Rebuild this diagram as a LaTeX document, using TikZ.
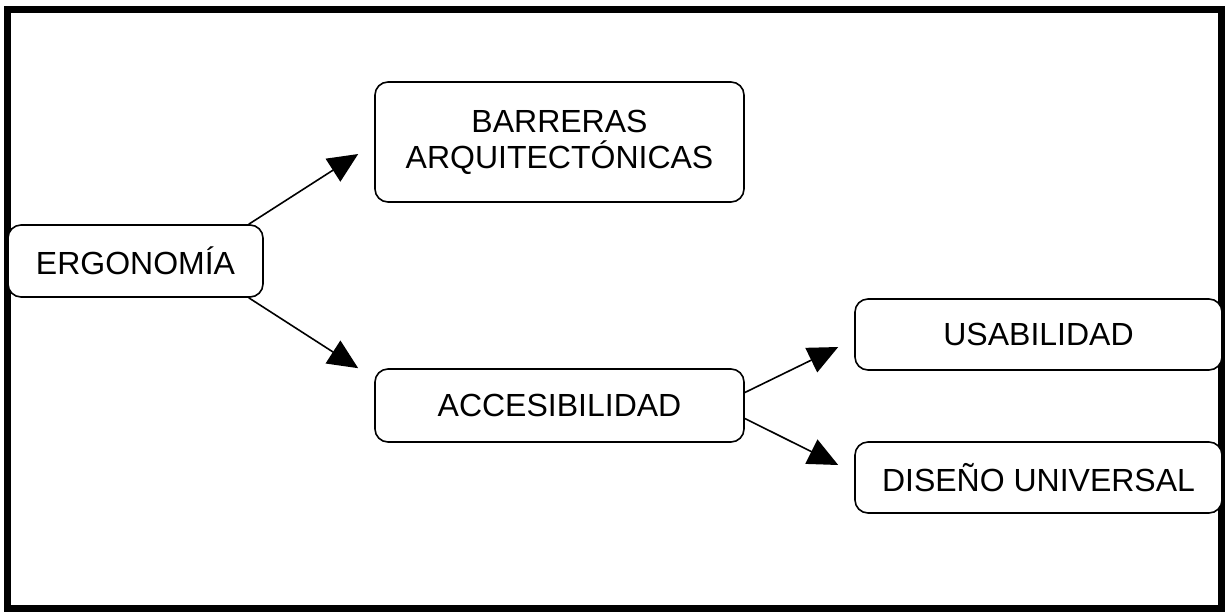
\documentclass[tikz,border=0pt]{standalone}
\usepackage{fontspec}
\setmainfont{Liberation Sans}
\usetikzlibrary{arrows.meta,calc}
\begin{document}
\begin{tikzpicture}[x=1pt,y=-1pt,
  box/.style={draw=black,line width=1.6pt,rounded corners=13pt,fill=white,
    font=\fontsize{32}{36}\selectfont,align=center,inner sep=0pt},
  conn/.style={line width=1.6pt,-{Triangle[length=30pt,width=27pt]}}]
\useasboundingbox (0,0) rectangle (1225,611);
\fill[white] (0,0) rectangle (1225,611);
\draw[line width=7pt] (7.5,9.5) rectangle (1221,608);
\node[box,minimum width=255pt,minimum height=72pt] (ergo) at (135.5,261) {ERGONOMÍA};
\node[box,minimum width=369pt,minimum height=120pt] (barr) at (559.5,142) {BARRERAS\\ARQUITECTÓNICAS};
\node[box,minimum width=369pt,minimum height=73pt] (acc) at (559.5,405.5) {ACCESIBILIDAD};
\node[box,minimum width=367pt,minimum height=71pt] (usab) at (1038.5,334.5) {USABILIDAD};
\node[box,minimum width=367pt,minimum height=71pt] (dis) at (1038.5,477.5) {DISEÑO UNIVERSAL};
\draw[conn] (ergo.18) -- ($(barr.west)+(-16,12)$);
\draw[conn] (ergo.-18) -- ($(acc.north west)+(-16,0)$);
\draw[conn] (acc.4) -- ($(usab.west)+(-16,12.5)$);
\draw[conn] (acc.-4) -- ($(dis.west)+(-16,-12.5)$);
\end{tikzpicture}
\end{document}
